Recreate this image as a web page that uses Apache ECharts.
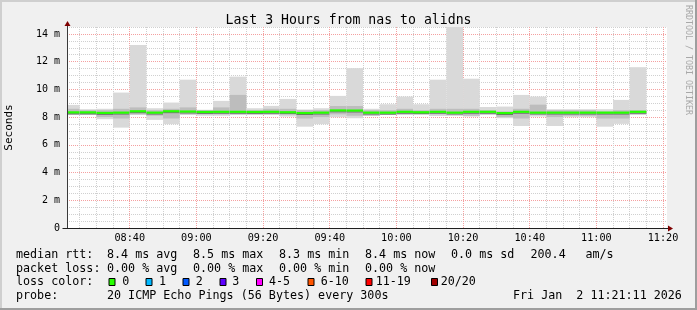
<!DOCTYPE html>
<html><head><meta charset="utf-8">
<script src="https://cdn.jsdelivr.net/npm/echarts@6/dist/echarts.min.js"></script>
<style>html,body{margin:0;padding:0;background:#f0f0f0;}#c{width:697px;height:310px;}</style>
</head><body><div id="c"></div>
<script>
// ---- data ----
const windowStart = "08:21:11";
const windowEnd = "11:21:11";
const stepMinutes = 5;
const startTimes = ["08:20","08:25","08:30","08:35","08:40","08:45","08:50","08:55","09:00","09:05",
  "09:10","09:15","09:20","09:25","09:30","09:35","09:40","09:45","09:50","09:55",
  "10:00","10:05","10:10","10:15","10:20","10:25","10:30","10:35","10:40","10:45",
  "10:50","10:55","11:00","11:05","11:10"];
const minMs = [8.16,8.16,7.85,7.24,8.16,7.80,7.49,8.16,8.10,8.10,
  8.16,8.16,8.16,8.04,7.31,7.49,7.99,7.92,8.10,8.16,
  8.16,8.20,8.08,8.08,8.04,8.16,7.92,7.36,8.04,7.36,
  7.99,7.99,7.31,7.51,8.16];
const maxMs = [8.88,8.57,8.60,9.77,13.20,8.64,9.05,10.70,8.53,9.17,
  10.92,8.64,8.81,9.31,8.55,8.64,9.53,11.53,8.60,8.93,
  9.48,8.93,10.70,14.90,10.77,8.73,8.76,9.60,9.48,8.57,
  8.57,8.57,8.57,9.24,11.60];
const lowMs = [8.15,8.15,8.00,7.90,8.20,8.10,7.90,8.20,8.20,8.20,
  8.20,8.20,8.20,8.20,7.90,8.00,8.20,8.10,8.10,8.15,
  8.20,8.20,8.20,8.20,8.10,8.20,8.00,7.90,8.20,8.00,
  8.10,8.10,7.90,7.90,8.20];
const highMs = [8.60,8.50,8.50,8.60,8.70,8.50,8.60,8.70,8.50,8.70,
  9.60,8.50,8.60,8.60,8.50,8.50,8.80,8.80,8.50,8.50,
  8.60,8.50,8.60,8.60,8.60,8.50,8.40,8.60,8.90,8.50,
  8.50,8.50,8.40,8.50,8.50];
const medianMs = [8.32,8.32,8.28,8.30,8.40,8.30,8.40,8.38,8.35,8.36,
  8.36,8.35,8.36,8.33,8.27,8.30,8.46,8.45,8.30,8.30,
  8.36,8.33,8.36,8.30,8.36,8.36,8.27,8.36,8.30,8.30,
  8.30,8.30,8.30,8.30,8.36];
const xTickLabels = ["08:40","09:00","09:20","09:40","10:00","10:20","10:40","11:00","11:20"];
const yTickValues = [0,2,4,6,8,10,12,14];
const yMaxMs = 14.5;
const rttStats = ["8.4 ms avg","8.5 ms max","8.3 ms min","8.4 ms now","0.0 ms sd","200.4","am/s"];
const lossStats = ["0.00 % avg","0.00 % max","0.00 % min","0.00 % now"];
const lossLabels = ["0","1","2","3","4-5","6-10","11-19","20/20"];
const lossColors = ["#26ff00","#00b8ff","#0059ff","#5e00ff","#ff00ff","#ff5500","#ff0000","#a00000"];
const probeText = "20 ICMP Echo Pings (56 Bytes) every 300s";
const dateText = "Fri Jan  2 11:21:11 2026";

// ---- helpers ----
function toMin(s){const p=s.split(':').map(Number);return p[0]*60+p[1]+(p[2]||0)/60;}
function fmt(m){m=Math.round(m);const h=Math.floor(m/60),mm=m%60;return (h<10?'0':'')+h+':'+(mm<10?'0':'')+mm;}
const xMin = toMin(windowStart), xMax = toMin(windowEnd);
const majorX = xTickLabels.map(toMin);
const minorX = [];
for (let t = Math.ceil(xMin/5)*5; t <= xMax; t += 5) minorX.push(t);
const minorY = [];
for (let v = 0.5; v <= yMaxMs + 1e-9; v += 0.5) minorY.push(v);

const rows = startTimes.map((t,i)=>[toMin(t), toMin(t)+stepMinutes, minMs[i], maxMs[i], lowMs[i], highMs[i], medianMs[i]]);

const MONO = '"DejaVu Sans Mono", monospace';

function renderSmoke(params, api){
  const cs = params.coordSys;
  const x0 = api.value(0), x1 = api.value(1);
  function box(lo, hi, color){
    const a = api.coord([x0, hi]), b = api.coord([x1, lo]);
    const l = Math.max(a[0], cs.x), r = Math.min(b[0], cs.x + cs.width);
    const t = Math.max(a[1], cs.y), btm = Math.min(b[1], cs.y + cs.height);
    return {type:'rect', silent:true, shape:{x:l, y:t, width:Math.max(0,r-l), height:Math.max(0,btm-t)}, style:{fill:color}};
  }
  const children = [
    box(api.value(2), api.value(3), '#d9d9d9'),
    box(api.value(4), api.value(5), '#bdbdbd')
  ];
  const m = api.coord([x0, api.value(6)]);
  const me = api.coord([x1, api.value(6)]);
  const l = Math.max(m[0], cs.x);
  children.push({type:'rect', silent:true, shape:{x:l, y:m[1]+0.6, width:me[0]-l, height:1}, style:{fill:'#6a6a6a'}});
  children.push({type:'rect', silent:true, shape:{x:l, y:m[1]-1.4, width:me[0]-l, height:2.2}, style:{fill:lossColors[0]}});
  return {type:'group', children};
}

const chart = echarts.init(document.getElementById('c'), null, {renderer:'canvas'});

const graphics = [];
// frame shading
graphics.push({type:'rect', shape:{x:0,y:0,width:697,height:2}, style:{fill:'#cfcfcf'}, silent:true});
graphics.push({type:'rect', shape:{x:0,y:0,width:2,height:310}, style:{fill:'#cfcfcf'}, silent:true});
graphics.push({type:'rect', shape:{x:0,y:308,width:697,height:2}, style:{fill:'#9e9e9e'}, silent:true});
graphics.push({type:'rect', shape:{x:695,y:0,width:2,height:310}, style:{fill:'#9e9e9e'}, silent:true});
// axis extensions and arrows
graphics.push({type:'line', shape:{x1:62.5,y1:228.5,x2:668,y2:228.5}, style:{stroke:'#1f1f1f',lineWidth:1}, silent:true, z:10});
graphics.push({type:'line', shape:{x1:67.5,y1:228,x2:67.5,y2:24}, style:{stroke:'#3a3a3a',lineWidth:1}, silent:true, z:10});
graphics.push({type:'polygon', shape:{points:[[668,225.5],[673,228.5],[668,231.5]]}, style:{fill:'#7f0000'}, silent:true, z:11});
graphics.push({type:'polygon', shape:{points:[[64.5,26],[67.5,21],[70.5,26]]}, style:{fill:'#7f0000'}, silent:true, z:11});
// watermark
graphics.push({type:'text', x:688, y:5, rotation:-Math.PI/2, style:{text:'RRDTOOL / TOBI OETIKER', font:'8.3px '+MONO, fill:'#a8a8a8', align:'left', verticalAlign:'middle'}, silent:true});
// legend text
function txt(x,y,s){graphics.push({type:'text', x:x, y:y, style:{text:s, font:'11.7px '+MONO, fill:'#000', align:'left', verticalAlign:'middle'}, silent:true});}
const statX = [107, 193, 279, 365, 451, 530.5, 585.5];
txt(16,255,'median rtt:');
rttStats.forEach((s,i)=>txt(statX[i],255,s));
txt(16,268.5,'packet loss:');
lossStats.forEach((s,i)=>txt(statX[i],268.5,s));
txt(16,282,'loss color:');
const boxX = [108.5,145.5,182.5,219.5,256,307.5,365.5,431];
const labX = [122.3,159,195.7,232.3,269,320.7,375.7,440.7];
lossLabels.forEach((s,i)=>{
  graphics.push({type:'rect', shape:{x:boxX[i]+0.5,y:278.5,width:6,height:7}, style:{fill:lossColors[i], stroke:'#000', lineWidth:1}, silent:true});
  txt(labX[i],282,s);
});
txt(16,296,'probe:');
txt(107,296,probeText);
txt(513,296,dateText);

chart.setOption({
  animation:false,
  backgroundColor:'#f0f0f0',
  title:{text:'Last 3 Hours from nas to alidns', left:'center', top:9,
    textStyle:{fontFamily:MONO, fontSize:13.2, fontWeight:'normal', color:'#000'}},
  grid:{left:67, top:27, width:600, height:201, show:true, backgroundColor:'#ffffff', borderWidth:0,
    containLabel:false, outerBoundsMode:'none'},
  xAxis:[
    {type:'value', min:xMin, max:xMax, position:'bottom',
      axisLine:{show:false}, axisTick:{show:false, customValues:minorX}, axisLabel:{show:false, customValues:minorX},
      splitLine:{show:true, lineStyle:{color:'#d0d0d0', width:1, type:[1,1]}}},
    {type:'value', min:xMin, max:xMax, position:'bottom',
      axisLine:{show:false}, axisTick:{show:false, customValues:majorX},
      axisLabel:{show:true, customValues:majorX, formatter:v=>fmt(v), margin:5, fontFamily:MONO, fontSize:10.2, color:'#000'},
      splitLine:{show:true, lineStyle:{color:'#f4a0a0', width:1, type:[1,1]}}}
  ],
  yAxis:[
    {type:'value', min:0, max:yMaxMs, position:'left',
      axisLine:{show:false}, axisTick:{show:false, customValues:minorY}, axisLabel:{show:false, customValues:minorY},
      splitLine:{show:true, lineStyle:{color:'#d0d0d0', width:1, type:[1,1]}}},
    {type:'value', min:0, max:yMaxMs, position:'left',
      name:'Seconds', nameLocation:'middle', nameRotate:90, nameGap:52,
      nameTextStyle:{fontFamily:MONO, fontSize:11, color:'#000'},
      axisLine:{show:false}, axisTick:{show:false, customValues:yTickValues},
      axisLabel:{show:true, customValues:yTickValues, formatter:v=>v===0?'0':v+' m', margin:7, fontFamily:MONO, fontSize:10, color:'#000'},
      splitLine:{show:true, lineStyle:{color:'#f4a0a0', width:1, type:[1,1]}}}
  ],
  series:[{
    type:'custom', xAxisIndex:0, yAxisIndex:0, renderItem:renderSmoke,
    encode:{x:[0,1], y:[2,3,4,5,6]}, data:rows, silent:true, clip:true
  }],
  graphic:graphics
});
</script></body></html>
